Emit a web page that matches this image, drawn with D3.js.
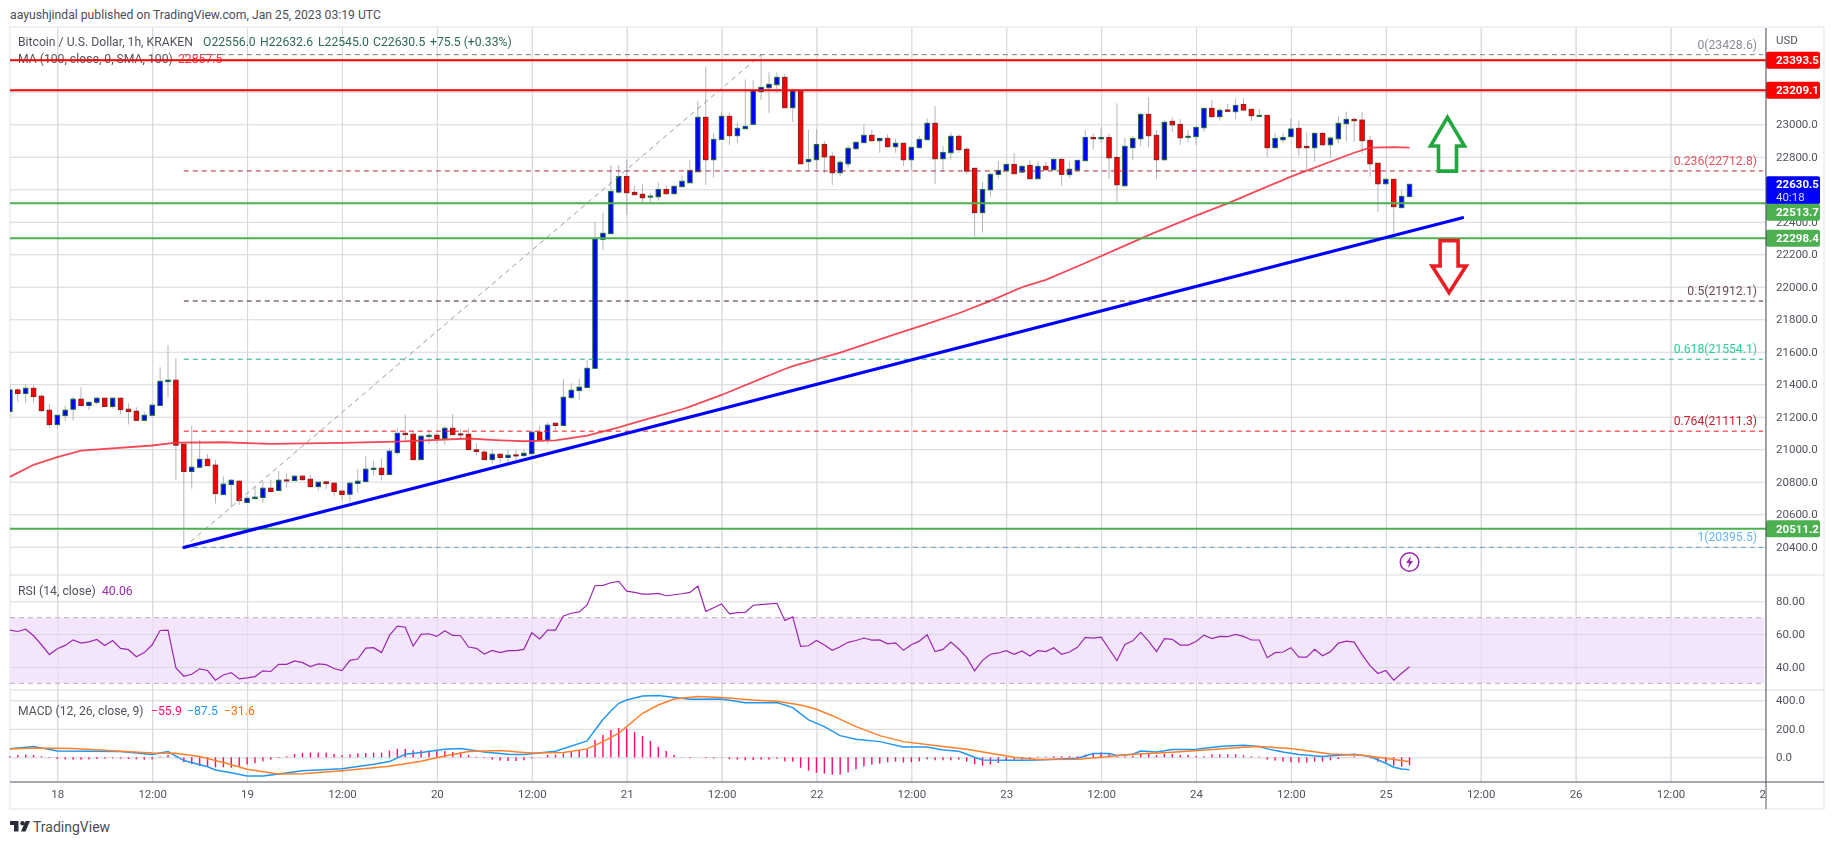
<!DOCTYPE html>
<html>
<head>
<meta charset="utf-8">
<script src="https://cdn.jsdelivr.net/npm/d3@7"></script>
<style>
  html, body { margin: 0; background: #fff; }
  svg { display: block; font-family: Roboto, sans-serif; }
  .axis .domain { display: none; }
  .axis text { fill: #50535e; font-size: 11.5px; font-family: Roboto, sans-serif; }
  .grid .domain { display: none; }
  .grid line { stroke: #d6d7dc; stroke-width: 1; }
</style>
</head>
<body>
<svg id="chart" width="1834" height="845"></svg>
<script>
// hourly candles, bar 0 = Jan 17 18:00
const opens = [
  21232,21365,21343,21375,21326,21240,21152,21207,21246,21308,
  21269,21289,21314,21263,21314,21246,21234,21178,21209,21269,
  21416,21425,21031,20863,20889,20938,20902,20721,20783,20803,
  20672,20696,20703,20760,20746,20811,20807,20834,20815,20770,
  20799,20791,20742,20723,20789,20801,20875,20883,20844,20979,
  21098,21092,20936,21078,21086,21066,21129,21094,21092,20996,
  20982,20936,20969,20949,20965,20961,20973,21105,21057,21160,
  21146,21318,21361,21380,21498,22292,22327,22583,22679,22581,
  22569,22554,22554,22599,22573,22616,22640,22708,23043,22782,
  22907,23049,22930,22973,23000,23201,23225,23244,23289,23102,
  23203,22770,22782,22876,22803,22702,22757,22850,22887,22932,
  22899,22913,22862,22883,22782,22856,22905,23006,22788,22825,
  22926,22846,22729,22456,22597,22692,22714,22753,22706,22747,
  22665,22741,22720,22784,22690,22718,22776,22919,22911,22919,
  22796,22622,22856,22911,23061,22932,22782,23018,22999,22921,
  22924,22979,23098,23047,23088,23078,23122,23092,23051,23055,
  22856,22905,22924,22975,22864,22856,22944,22874,22911,23004,
  23030,23026,22901,22760,22634,22661,22487,22556];
const closes = [
  21365,21343,21375,21324,21238,21152,21209,21240,21308,21269,
  21289,21314,21263,21314,21244,21232,21178,21209,21271,21418,
  21425,21025,20863,20889,20938,20899,20727,20785,20809,20684,
  20698,20705,20760,20740,20809,20807,20834,20813,20770,20797,
  20789,20740,20721,20791,20803,20877,20883,20844,20988,21098,
  21090,20936,21080,21086,21066,21129,21090,21090,20998,20986,
  20936,20969,20949,20963,20961,20975,21105,21057,21148,21146,
  21320,21363,21382,21498,22296,22329,22587,22679,22579,22567,
  22548,22558,22599,22573,22618,22649,22716,23043,22782,22907,
  23049,22930,22975,22987,23205,23227,23246,23289,23102,23205,
  22757,22784,22876,22800,22702,22766,22852,22889,22932,22899,
  22913,22862,22883,22782,22858,22907,23006,22788,22827,22926,
  22844,22712,22456,22599,22692,22716,22753,22696,22741,22665,
  22741,22720,22784,22692,22723,22778,22919,22911,22919,22794,
  22628,22864,22913,23061,22930,22782,23012,22997,22917,22926,
  22981,23098,23047,23086,23080,23116,23088,23053,23055,22856,
  22913,22919,22971,22856,22856,22944,22874,22915,23006,23030,
  23022,22899,22757,22634,22661,22493,22556,22630.5];
const highs = [
  21406,21375,21400,21396,21338,21279,21211,21267,21324,21382,
  21293,21320,21316,21318,21318,21283,21258,21232,21287,21505,
  21642,21560,21037,21144,21057,20971,20934,20832,20815,20809,
  20709,20770,20801,20811,20865,20852,20842,20842,20842,20801,
  20801,20795,20750,20801,20879,20959,20930,20945,21006,21129,
  21211,21115,21088,21119,21098,21144,21217,21123,21131,21037,
  20996,20996,20975,20996,20996,20996,21109,21144,21166,21164,
  21433,21406,21433,21550,22401,22456,22749,22749,22784,22620,
  22632,22575,22643,22622,22626,22684,22780,23143,23354,22948,
  23071,23071,23012,23276,23272,23430,23324,23320,23309,23221,
  23207,22965,22971,22897,22831,22780,22872,22897,23000,22965,
  22919,22940,22913,22887,22862,22928,23036,23112,22866,22950,
  22940,22860,22729,22645,22702,22774,22759,22823,22749,22780,
  22770,22770,22790,22790,22770,22780,22965,22944,22981,22944,
  23129,22919,22928,23067,23166,22965,23026,23043,23032,22961,
  22985,23098,23149,23098,23125,23160,23160,23096,23094,23057,
  22948,22948,23036,23022,22954,22954,22954,22924,23051,23077,
  23043,23075,22928,22764,22667,22661,22595,22632.6];
const lows = [
  21201,21293,21283,21287,21226,21133,21127,21176,21176,21263,
  21242,21273,21258,21252,21217,21152,21172,21172,21201,21267,
  21320,20811,20395.5,20758,20883,20897,20666,20721,20643,20659,
  20668,20692,20672,20733,20746,20760,20807,20805,20760,20746,
  20754,20709,20688,20676,20733,20795,20836,20807,20842,20965,
  21047,20934,20934,21031,21037,21027,21088,21057,20996,20965,
  20934,20910,20918,20918,20930,20951,20965,21053,21033,21119,
  21144,21308,21304,21377,21496,22226,22325,22571,22442,22561,
  22522,22522,22530,22567,22567,22612,22640,22708,22626,22671,
  22903,22872,22887,22973,22995,23149,23071,23194,23102,23014,
  22755,22714,22723,22698,22626,22682,22733,22842,22887,22893,
  22825,22858,22825,22743,22718,22852,22903,22632,22708,22784,
  22825,22694,22308,22333,22554,22667,22710,22694,22698,22661,
  22663,22718,22718,22622,22671,22714,22776,22846,22887,22663,
  22520,22612,22780,22866,22858,22665,22776,22954,22872,22887,
  22872,22954,23043,23022,23078,23032,23084,23020,23051,22800,
  22852,22887,22919,22805,22718,22770,22870,22796,22883,22893,
  22893,22821,22677,22462,22630,22329,22483,22545];

// moving average, read at these bars
const maBars = [0,3,6,9,18,21,27,33,42,49,58,62,65,69,73,77,80,85,86,90,98,99,105,112,116,120,124,128,131,136,140,144,150,154,162,170,172,175,177];
const maValues = [20830,20904,20951,20992,21023,21041,21043,21033,21039,21047,21066,21055,21049,21055,21084,21135,21178,21246,21262,21334,21494,21511,21595,21708,21771,21837,21913,21997,22042,22146,22232,22318,22438,22513,22678,22825,22856,22860,22857];

const rsiValues = [
  62.4,61.6,63,59,53.5,47.5,51.1,53.1,56.5,54.5,
  55.3,56.7,53.1,56.1,51.3,50.5,46.2,48.7,53.5,62.2,
  62.4,39.4,34.3,35.5,38.8,37.8,31.9,35.1,36.5,32.7,
  33.3,34.1,37.6,37.2,41.6,41.6,43.6,42.6,40.2,41.8,
  41.4,39,37.8,44,44.8,51.5,51.7,48.7,59.2,64.8,
  64.2,52.7,59.8,60.2,58.6,62,59.2,59,52.1,51.3,
  47.9,50.1,48.7,49.9,49.9,50.7,60.8,57,62.4,62.4,
  71.1,72.7,73.5,77.8,89.5,89.7,91.3,92.1,86.2,85.4,
  84.4,84.4,84.8,83.4,84,84.6,85.4,89.3,73.9,76.1,
  78.4,72.3,73.1,73.3,77.6,78,78.4,78.8,68.3,70.5,
  52.5,52.9,56.1,53.3,50.1,52.3,55,56.1,57.6,56.3,
  56.5,54.1,54.7,50.1,53.5,55.7,59.6,49.3,50.7,55.1,
  50.9,45.8,37.6,44,47.7,48.5,49.9,47.7,49.7,46.6,
  49.9,49.3,51.7,47.7,49.1,51.9,58,57.6,58.2,50.9,
  43.8,53.7,55.9,61,55.7,49.3,57.2,56.8,53.3,53.3,
  55.5,59.4,57.3,58.6,58.4,59.8,58.6,56.4,56.4,45.6,
  48.7,49.1,51.7,46,46,50.7,46.8,49.3,54.5,55.7,
  55.1,47.5,40.8,36,37.8,31.9,36.1,40.06];

const histValues = [
  9,16,19,16,7,-5,-12,-14,-16,-16,
  -14,-12,-9,-7,-9,-12,-14,-16,-14,5,
  16,5,-35,-47,-59,-66,-70,-70,-73,-63,
  -51,-42,-28,-16,-5,7,23,30,33,33,
  33,23,14,21,28,30,33,33,47,59,
  59,49,49,47,49,44,37,35,16,5,
  -5,-16,-23,-26,-26,-21,-7,2,16,19,
  28,40,47,61,122,157,192,206,201,178,
  150,115,73,44,16,2,-5,0,-5,-7,
  -2,-12,-16,-21,-19,-16,-16,-9,-28,-30,
  -73,-94,-108,-115,-122,-122,-105,-84,-63,-51,
  -44,-35,-30,-37,-35,-28,-14,-21,-21,-21,
  -16,-30,-49,-59,-51,-40,-21,-16,-16,-7,
  5,5,9,9,9,9,19,28,35,21,
  5,7,12,23,23,16,23,23,16,16,
  9,7,21,21,21,21,14,7,5,-16,
  -23,-30,-35,-37,-37,-30,-30,-21,-12,-2,
  7,0,-7,-30,-35,-59,-66,-55.9];

const macdBars = [0,3,6,14,18,20,22,25,26,28,30,32,34,37,42,46,48,50,52,55,57,60,63,65,69,73,74,75,76,77,78,80,82,86,90,93,97,99,101,103,105,107,110,113,116,118,120,122,123,126,130,135,137,139,140,142,143,145,147,150,151,153,154,156,158,159,161,163,166,168,170,172,174,175,176,177];
const macdValues = [60,75,44,40,19,40,-23,-66,-89,-108,-131,-131,-117,-94,-80,-49,-30,21,33,56,61,37,21,19,42,115,192,265,325,379,402,430,433,407,409,382,384,349,262,215,152,126,110,73,73,51,42,0,-19,-21,-19,-7,26,26,12,21,44,37,54,54,63,75,80,84,75,59,37,19,5,14,21,5,-42,-70,-82,-87.5];
const signalBars = [0,3,8,14,18,21,24,27,30,34,37,42,48,52,55,58,62,66,70,73,75,77,78,80,82,84,87,90,94,97,100,102,104,107,110,113,117,121,124,127,130,135,138,142,147,153,156,158,162,167,171,174,177];
const signalValues = [58,66,61,42,30,28,5,-37,-84,-117,-115,-94,-63,-28,9,40,47,30,33,59,110,169,215,309,367,409,426,419,402,393,367,337,292,215,152,110,82,56,28,0,-16,-14,0,21,35,58,70,75,61,23,14,-7,-31.6];

// axes
const timeBars = [6,18,30,42,54,66,78,90,102,114,126,138,150,162,174,186,198,210,222];
const timeLabels = ["18","12:00","19","12:00","20","12:00","21","12:00","22","12:00","23","12:00","24","12:00","25","12:00","26","12:00","27"];
const priceTicks = [20400,20600,20800,21000,21200,21400,21600,21800,22000,22200,22400,22600,22800,23000,23200,23400];
// 22600, 23200 and 23400 sit fully behind the price tags
const priceLabelTicks = [20400,20600,20800,21000,21200,21400,21600,21800,22000,22200,22400,22800,23000];
const rsiTicks = [40,60,80];
const macdTicks = [0,200,400];

// horizontal levels and price tags
const redLevels = [23393.5,23209.1];
const greenLevels = [22513.7,22298.4,20511.2];
const fibRatios = ["0","0.236","0.5","0.618","0.764","1"];
const fibPrices = [23428.6,22712.8,21912.1,21554.1,21111.3,20395.5];
const fibLineColors = ["#787b86","#b22833","#4a1d33","#22ab94","#f7101c","#64a6d8"];
const fibTextColors = ["#8a8d96","#e0555f","#6b4a5c","#2ecb95","#c8202e","#64b5f6"];

const fibStart = { bar: 22, price: 20395.5 };
const fibEnd = { bar: 95, price: 23428.6 };
const trendStart = { bar: 22, price: 20395.5 };
const trendEnd = { bar: 183.7, price: 22425 };

const W = 1834, left = 10, right = 1766;
const svg = d3.select("#chart");

const x = d3.scaleLinear().domain([6, 222]).range([57.3, 1765.4]);
const y = d3.scaleLinear().domain([20400, 23000]).range([546.7, 124.3]);
const yRsi = d3.scaleLinear().domain([30, 80]).range([683.3, 601.3]);
const yMacd = d3.scaleLinear().domain([0, 400]).range([757.3, 700.3]);

svg.append("defs").append("clipPath").attr("id", "plot")
  .append("rect").attr("x", left).attr("y", 28).attr("width", right - left).attr("height", 754);

// page header
svg.append("text").attr("x", 10).attr("y", 19).attr("font-size", 12.2).attr("fill", "#4a4e58")
  .text("aayushjindal published on TradingView.com, Jan 25, 2023 03:19 UTC");

// frame
svg.append("rect").attr("x", 10).attr("y", 27).attr("width", 1814).attr("height", 782)
  .attr("fill", "#fff").attr("stroke", "#f0f1f6").attr("stroke-width", 2);

const plot = svg.append("g").attr("clip-path", "url(#plot)");

// vertical grid
plot.append("g").attr("class", "grid")
  .attr("transform", "translate(0,782)")
  .call(d3.axisBottom(x).tickValues(timeBars).tickSize(-754).tickFormat(""));

// rsi band goes under the grid lines
plot.append("rect")
  .attr("x", left).attr("width", 1754)
  .attr("y", yRsi(70)).attr("height", yRsi(30) - yRsi(70))
  .attr("fill", "#f3e6fc");

const gridH = (scale, ticks) => plot.append("g").attr("class", "grid")
  .attr("transform", `translate(${right},0)`)
  .call(d3.axisLeft(scale).tickValues(ticks).tickSize(right - left).tickFormat(""))
  .call(g => g.selectAll(".tick line").attr("x2", -(right - left)));
gridH(y, priceTicks);
gridH(yRsi, rsiTicks);
gridH(yMacd, macdTicks);

// vertical grid shows through the band
plot.append("g").attr("class", "grid").attr("opacity", 0.6)
  .attr("transform", "translate(0,782)")
  .call(d3.axisBottom(x).tickValues(timeBars).tickSize(-754).tickFormat(""));

// legend sits under the drawings
const legend = (txt, px, py, fill) => svg.append("text")
  .attr("x", px).attr("y", py).attr("font-size", 12.2).attr("fill", fill).text(txt);
const legendLayer = () => {
  legend("Bitcoin / U.S. Dollar, 1h, KRAKEN", 18, 46, "#50535e");
  legend("O22556.0", 203, 46, "#2f6b52");
  legend("H22632.6", 260, 46, "#2f6b52");
  legend("L22545.0", 318, 46, "#2f6b52");
  legend("C22630.5", 373, 46, "#2f6b52");
  legend("+75.5 (+0.33%)", 430, 46, "#2f6b52");
  legend("MA (100, close, 0, SMA, 100)", 18, 63, "#50535e");
  legend("22857.5", 178, 63, "#f23645");
  legend("RSI (14, close)", 18, 595, "#50535e");
  legend("40.06", 102, 595, "#9c27b0");
  legend("MACD (12, 26, close, 9)", 18, 715, "#50535e");
  legend("−55.9", 151, 715, "#ff0a6c");
  legend("−87.5", 187, 715, "#2196f3");
  legend("−31.6", 224, 715, "#ff6d00");
};
legendLayer();

// candles
const bars = d3.range(opens.length);
const candles = svg.append("g").attr("clip-path", "url(#plot)");
candles.selectAll("line.wick").data(bars).join("line")
  .attr("class", "wick")
  .attr("x1", i => x(i)).attr("x2", i => x(i))
  .attr("y1", i => y(highs[i])).attr("y2", i => y(lows[i]))
  .attr("stroke", "#b2b5be").attr("stroke-width", 1);
candles.selectAll("rect.body").data(bars).join("rect")
  .attr("class", "body")
  .attr("x", i => x(i) - 2.2).attr("width", 4.4)
  .attr("y", i => y(Math.max(opens[i], closes[i])))
  .attr("height", i => Math.max(1, Math.abs(y(opens[i]) - y(closes[i]))))
  .attr("fill", i => closes[i] >= opens[i] ? "#0000ff" : "#ff0000")
  .attr("stroke", i => closes[i] >= opens[i] ? "#1e6b3c" : "#8a1c1c")
  .attr("stroke-width", 1);

// moving average
const maLine = d3.line().x(i => x(maBars[i])).y(i => y(maValues[i]));
svg.append("path").attr("d", maLine(d3.range(maBars.length)))
  .attr("fill", "none").attr("stroke", "#f23645").attr("stroke-width", 1.8).attr("opacity", 0.9);

// fib levels
const fibRight = 1763;
const fib = svg.append("g");
fibPrices.forEach((p, k) => {
  fib.append("line")
    .attr("x1", x(fibStart.bar)).attr("x2", fibRight)
    .attr("y1", y(p)).attr("y2", y(p))
    .attr("stroke", fibLineColors[k]).attr("stroke-width", 1)
    .attr("stroke-dasharray", "5 4");
  fib.append("text")
    .attr("x", 1757).attr("y", y(p) - 6).attr("text-anchor", "end")
    .attr("font-size", 12.2).attr("fill", fibTextColors[k])
    .text(`${fibRatios[k]}(${p.toFixed(1)})`);
});
fib.append("line")
  .attr("x1", x(fibStart.bar)).attr("y1", y(fibStart.price))
  .attr("x2", x(fibEnd.bar)).attr("y2", y(fibEnd.price))
  .attr("stroke", "#9598a1").attr("stroke-width", 1).attr("stroke-dasharray", "5 4");

// support and resistance
const levelLine = (p, color) => svg.append("line")
  .attr("x1", left).attr("x2", right).attr("y1", y(p)).attr("y2", y(p))
  .attr("stroke", color).attr("stroke-width", 2);
redLevels.forEach(p => levelLine(p, "#ff0000"));
greenLevels.forEach(p => levelLine(p, "#4caf50"));

// trend line
svg.append("line")
  .attr("x1", x(trendStart.bar)).attr("y1", y(trendStart.price))
  .attr("x2", x(trendEnd.bar)).attr("y2", y(trendEnd.price))
  .attr("stroke", "#0000ff").attr("stroke-width", 3.2).attr("stroke-linecap", "round");

// direction arrows
const arrow = (bar, tip, wing, tail, color) => {
  const c = x(bar);
  const pts = [[c, y(tip)], [c + 17, y(wing)], [c + 9, y(wing)], [c + 9, y(tail)],
    [c - 9, y(tail)], [c - 9, y(wing)], [c - 17, y(wing)]];
  svg.append("path").attr("d", d3.line()(pts) + "Z")
    .attr("fill", "none").attr("stroke", color).attr("stroke-width", 3.6).attr("stroke-linejoin", "miter");
};
arrow(181.8, 23043, 22866, 22712, "#22a73f");
arrow(182, 21964, 22128, 22284, "#ed1c24");

// news marker
const flash = svg.append("g").attr("transform", `translate(${x(177)},562)`);
flash.append("circle").attr("r", 9.3).attr("fill", "#fff").attr("stroke", "#9c27b0").attr("stroke-width", 1.5);
flash.append("path").attr("d", "M1.5,-6 L-3.5,1 L-0.5,1 L-1.5,6 L3.5,-1 L0.5,-1 Z").attr("fill", "#9c27b0");

// rsi
const rsiDash = [70, 30];
rsiDash.forEach(v => plot.append("line")
  .attr("x1", left).attr("x2", right - 2).attr("y1", yRsi(v)).attr("y2", yRsi(v))
  .attr("stroke", "#b8adbe").attr("stroke-width", 1).attr("stroke-dasharray", "5 4"));
const rsiLine = d3.line().x((d, i) => x(i)).y(d => yRsi(d));
svg.append("path").attr("clip-path", "url(#plot)").attr("d", rsiLine(rsiValues))
  .attr("fill", "none").attr("stroke", "#9c27b0").attr("stroke-width", 1.2);

// macd
svg.append("g").selectAll("rect").data(histValues).join("rect")
  .attr("x", (d, i) => x(i) - 0.7).attr("width", 1.4)
  .attr("y", d => Math.min(yMacd(d), yMacd(0)))
  .attr("height", d => Math.abs(yMacd(d) - yMacd(0)))
  .attr("fill", "#ff0a6c");
const macdLine = d3.line().x(i => x(macdBars[i])).y(i => yMacd(macdValues[i]));
const signalLine = d3.line().x(i => x(signalBars[i])).y(i => yMacd(signalValues[i]));
svg.append("path").attr("d", macdLine(d3.range(macdBars.length)))
  .attr("fill", "none").attr("stroke", "#2196f3").attr("stroke-width", 1.5);
svg.append("path").attr("d", signalLine(d3.range(signalBars.length)))
  .attr("fill", "none").attr("stroke", "#ff7f2a").attr("stroke-width", 1.5);

// pane separators
[575, 690].forEach(py => svg.append("line")
  .attr("x1", left).attr("x2", 1824).attr("y1", py).attr("y2", py)
  .attr("stroke", "#dcdde2").attr("stroke-width", 1.2));

// right axes
const axisRight = (scale, ticks, fmt) => svg.append("g").attr("class", "axis")
  .attr("transform", `translate(${right},0)`)
  .call(d3.axisRight(scale).tickValues(ticks).tickSize(0).tickPadding(10).tickFormat(fmt));
axisRight(y, priceLabelTicks, d3.format(".1f"));
axisRight(yRsi, rsiTicks, d3.format(".2f"));
axisRight(yMacd, macdTicks, d3.format(".1f"));

svg.append("text").attr("x", 1776).attr("y", 44).attr("font-size", 11.5).attr("fill", "#50535e").text("USD");

// price tags
const tagValues = [23393.5, 23209.1, 22298.4, 20511.2, 22630.5, 22513.7];
const tagColors = ["#ff0000", "#ff0000", "#4caf50", "#4caf50", "#0000ff", "#4caf50"];
const tagText = ["23393.5", "23209.1", "22298.4", "20511.2", "22630.5", "22513.7"];
const tagShift = [0, 0, 0, 0, 6, 9];
const tagHeight = [17, 17, 17, 17, 28, 17];
tagValues.forEach((v, k) => {
  const cy = y(v) + tagShift[k];
  const h = tagHeight[k];
  svg.append("rect").attr("x", right).attr("y", cy - h / 2)
    .attr("width", 54).attr("height", h).attr("rx", 2).attr("fill", tagColors[k]);
  const lineY = k === 4 ? y(v) + 4 : cy + 4;
  svg.append("text").attr("x", 1776).attr("y", lineY).attr("font-size", 11.5)
    .attr("font-weight", 700).attr("fill", "#fff").text(tagText[k]);
  if (k === 4) {
    svg.append("text").attr("x", 1776).attr("y", lineY + 13).attr("font-size", 11.5)
      .attr("fill", "#d8d8ff").text("40:18");
  }
});

// time axis
const timeAxis = svg.append("g").attr("class", "axis").attr("clip-path", "url(#timeClip)")
  .attr("transform", "translate(0,782)")
  .call(d3.axisBottom(x).tickValues(timeBars).tickSize(0).tickPadding(8)
    .tickFormat((d, i) => timeLabels[i]));
svg.select("defs").append("clipPath").attr("id", "timeClip")
  .append("rect").attr("x", left).attr("y", -10).attr("width", right - left).attr("height", 40);

svg.append("line").attr("x1", left).attr("x2", 1824).attr("y1", 782).attr("y2", 782)
  .attr("stroke", "#50535e").attr("stroke-width", 1);
svg.append("line").attr("x1", right).attr("x2", right).attr("y1", 28).attr("y2", 809)
  .attr("stroke", "#50535e").attr("stroke-width", 1);

// footer logo
const logo = svg.append("g").attr("transform", "translate(10,821)").attr("fill", "#2a2e39");
logo.append("path").attr("d", "M0,0 H8.5 V10.5 H4 V4 H0 Z");
logo.append("circle").attr("cx", 12.5).attr("cy", 2.2).attr("r", 2.2);
logo.append("path").attr("d", "M15.5,0 H20 L15.5,10.5 H11 Z");
svg.append("text").attr("x", 33).attr("y", 832).attr("font-size", 14).attr("fill", "#4a4e58").text("TradingView");
</script>
</body>
</html>
